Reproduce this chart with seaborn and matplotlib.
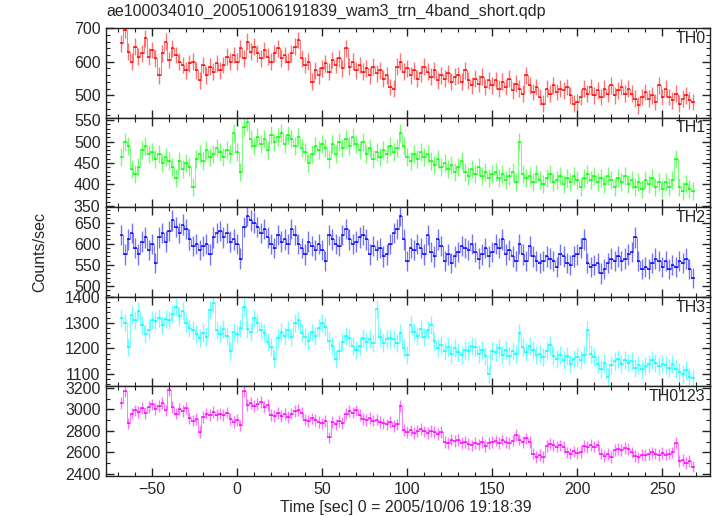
import numpy as np
import matplotlib
matplotlib.use("Agg")
import matplotlib.pyplot as plt
from matplotlib.ticker import MultipleLocator
import seaborn as sns

# ── Data (2 s bins) ───────────────────────────────
title = "ae100034010_20051006191839_wam3_trn_4band_short.qdp"
time_sec = np.arange(-68, 269, 2)

th0 = [655, 695, 630, 600, 645, 615, 625, 670, 615, 635,
       610, 560, 625, 660, 605, 640, 620, 600, 590, 575,
       595, 600, 575, 545, 590, 560, 585, 570, 595, 575,
       590, 615, 600, 620, 600, 640, 610, 660, 630, 645,
       625, 610, 635, 615, 600, 625, 640, 610, 620, 600,
       625, 645, 665, 610, 590, 600, 540, 575, 560, 580,
       595, 570, 605, 590, 610, 580, 640, 585, 600, 575,
       590, 570, 580, 560, 585, 565, 575, 550, 560, 525,
       520, 585, 600, 570, 580, 560, 575, 550, 565, 585,
       570, 555, 575, 545, 560, 550, 565, 540, 555, 560,
       540, 575, 545, 530, 550, 535, 555, 525, 545, 530,
       545, 520, 540, 525, 550, 515, 535, 520, 505, 560,
       530, 510, 525, 495, 475, 520, 505, 530, 510, 520,
       515, 525, 500, 475, 480, 495, 520, 505, 525, 500,
       515, 495, 520, 505, 530, 500, 515, 525, 505, 520,
       505, 490, 470, 495, 510, 490, 500, 480, 530, 495,
       520, 495, 485, 505, 475, 490, 500, 485, 480]

th1 = [465, 500, 490, 435, 425, 440, 480, 490, 470, 475,
       460, 470, 450, 465, 455, 440, 415, 455, 435, 450,
       440, 395, 460, 470, 455, 480, 465, 470, 485, 475,
       465, 480, 470, 520, 475, 430, 535, 545, 505, 490,
       510, 495, 505, 480, 515, 500, 510, 520, 495, 515,
       505, 490, 510, 485, 475, 450, 470, 490, 480, 495,
       485, 460, 495, 470, 500, 485, 505, 490, 510, 495,
       480, 500, 470, 485, 460, 475, 465, 480, 470, 490,
       475, 485, 520, 490, 465, 455, 470, 460, 475, 465,
       470, 455, 445, 460, 440, 450, 435, 445, 430, 440,
       455, 430, 420, 435, 425, 440, 420, 430, 415, 425,
       430, 415, 425, 410, 420, 430, 405, 500, 425, 415,
       420, 405, 425, 410, 400, 415, 425, 405, 410, 420,
       400, 415, 405, 420, 410, 395, 415, 425, 410, 420,
       405, 415, 400, 420, 410, 395, 415, 405, 420, 400,
       410, 395, 405, 390, 410, 400, 415, 395, 405, 390,
       405, 395, 410, 460, 395, 385, 400, 390, 385]

th2 = [620, 575, 610, 625, 590, 575, 605, 615, 585, 600,
       555, 615, 625, 605, 630, 655, 640, 625, 645, 635,
       610, 595, 600, 585, 595, 600, 575, 615, 625, 630,
       615, 625, 605, 610, 600, 565, 640, 665, 655, 650,
       640, 625, 635, 615, 600, 590, 620, 605, 610, 600,
       635, 620, 600, 590, 575, 605, 595, 585, 600, 585,
       560, 620, 610, 600, 595, 620, 635, 610, 600, 605,
       615, 620, 610, 575, 595, 585, 590, 570, 575, 600,
       625, 635, 665, 610, 560, 590, 585, 600, 590, 575,
       620, 580, 570, 610, 595, 560, 575, 555, 570, 580,
       595, 590, 585, 600, 580, 565, 575, 590, 570, 580,
       600, 590, 610, 575, 585, 570, 560, 600, 575, 560,
       595, 570, 560, 555, 560, 570, 565, 560, 545, 575,
       570, 555, 550, 570, 575, 590, 610, 555, 545, 550,
       555, 530, 540, 555, 565, 560, 570, 560, 565, 575,
       580, 615, 560, 540, 545, 540, 555, 565, 560, 545,
       560, 540, 550, 545, 560, 555, 565, 540, 520]

th3 = [1320, 1300, 1205, 1330, 1310, 1345, 1290, 1255, 1270, 1310,
       1305, 1320, 1290, 1315, 1310, 1335, 1360, 1325, 1345, 1300,
       1280, 1270, 1255, 1240, 1260, 1245, 1350, 1375, 1270, 1255,
       1275, 1250, 1190, 1265, 1255, 1280, 1360, 1275, 1265, 1320,
       1300, 1270, 1260, 1225, 1205, 1160, 1240, 1265, 1250, 1270,
       1245, 1300, 1310, 1260, 1245, 1230, 1265, 1250, 1280, 1300,
       1285, 1230, 1210, 1160, 1190, 1225, 1250, 1240, 1210, 1195,
       1210, 1240, 1225, 1235, 1220, 1355, 1245, 1220, 1235, 1240,
       1235, 1220, 1260, 1200, 1175, 1290, 1265, 1250, 1275, 1245,
       1270, 1290, 1230, 1200, 1215, 1190, 1205, 1180, 1200, 1185,
       1175, 1195, 1190, 1210, 1205, 1180, 1195, 1170, 1100, 1190,
       1185, 1200, 1175, 1195, 1170, 1190, 1180, 1260, 1205, 1185,
       1210, 1195, 1175, 1180, 1165, 1190, 1215, 1170, 1160, 1175,
       1155, 1170, 1140, 1160, 1165, 1155, 1175, 1270, 1180, 1165,
       1140, 1120, 1145, 1090, 1135, 1150, 1160, 1140, 1155, 1145,
       1150, 1125, 1135, 1120, 1130, 1140, 1155, 1145, 1130, 1140,
       1135, 1125, 1140, 1120, 1110, 1100, 1115, 1090, 1085]

th0123 = [3060, 3170, 2870, 2960, 2990, 2975, 3010, 2965, 3020, 3045,
          3000, 3030, 3060, 2990, 3180, 3020, 2960, 3005, 2985, 3010,
          2920, 2895, 2910, 2790, 2930, 2960, 2945, 2975, 2950, 2960,
          2945, 2970, 2910, 2885, 2900, 2850, 3170, 3040, 3060, 3030,
          3050, 3065, 3025, 3040, 2950, 2935, 2965, 2940, 2955, 2930,
          2960, 2985, 2995, 2970, 2905, 2890, 2915, 2900, 2880, 2870,
          2890, 2740, 2880, 2860, 2890, 2875, 2960, 2985, 2970, 2990,
          2950, 2910, 2900, 2920, 2895, 2905, 2880, 2870, 2860, 2880,
          2845, 2860, 3030, 2810, 2790, 2805, 2780, 2800, 2820, 2795,
          2780, 2800, 2790, 2770, 2790, 2700, 2690, 2720, 2705, 2715,
          2690, 2700, 2680, 2665, 2690, 2675, 2700, 2660, 2685, 2700,
          2710, 2690, 2720, 2700, 2690, 2710, 2760, 2720, 2700, 2730,
          2700, 2590, 2560, 2575, 2560, 2660, 2680, 2670, 2655, 2665,
          2650, 2600, 2590, 2610, 2595, 2605, 2660, 2650, 2670, 2655,
          2665, 2590, 2570, 2585, 2560, 2620, 2635, 2625, 2640, 2630,
          2600, 2570, 2555, 2580, 2575, 2585, 2600, 2590, 2575, 2595,
          2580, 2590, 2600, 2690, 2520, 2530, 2505, 2520, 2470]

panels = ["TH0", "TH1", "TH2", "TH3", "TH0123"]
series = [th0, th1, th2, th3, th0123]
errors = [25, 21, 24, 35, 54]

# ── Style ─────────────────────────────────────────
sns.set_theme(style="ticks")
plt.rcParams["font.family"] = ["Liberation Sans", "DejaVu Sans"]
plt.rcParams["font.size"] = 11.5

colors = ["#ff0000", "#00ff00", "#0000ff", "#00ffff", "#ff00ff"]
ylims = [(433, 701), (347, 556), (475, 686), (1052, 1401), (2382, 3212)]
majors = [100, 50, 50, 100, 200]
minors = [20, 10, 10, 20, 100]

fig, axes = plt.subplots(5, 1, figsize=(7.17, 5.16), dpi=100, sharex=True)
fig.subplots_adjust(left=0.148, right=0.990, top=0.9457, bottom=0.0775, hspace=0)

for ax, name, vals, err, c, yl, mj, mn in zip(axes, panels, series, errors,
                                              colors, ylims, majors, minors):
    # vertical error bars (light) + bin widths (full colour)
    ax.errorbar(time_sec, vals, yerr=err, fmt="none", ecolor=c,
                elinewidth=1.0, alpha=0.55, zorder=2)
    ax.errorbar(time_sec, vals, xerr=1.0, fmt="none", ecolor=c,
                elinewidth=1.1, alpha=0.9, zorder=3)
    sns.lineplot(x=time_sec, y=vals, ax=ax, color=c, lw=0.6, alpha=0.6,
                 drawstyle="steps-mid", zorder=3)
    ax.set_ylim(*yl)
    ax.set_xlim(-77, 278)
    ax.yaxis.set_major_locator(MultipleLocator(mj))
    ax.yaxis.set_minor_locator(MultipleLocator(mn))
    ax.xaxis.set_major_locator(MultipleLocator(50))
    ax.xaxis.set_minor_locator(MultipleLocator(10))
    ax.tick_params(which="both", direction="in", top=True, right=True,
                   color="#222222", labelsize=11.5, pad=4)
    ax.tick_params(which="major", length=6, width=1)
    ax.tick_params(which="minor", length=3, width=0.8)
    for s in ax.spines.values():
        s.set_linewidth(1.0)
        s.set_color("#222222")
    ax.set_ylabel("")
    ax.text(0.993, 0.97, name, transform=ax.transAxes, ha="right", va="top",
            fontsize=11.5)

axes[-1].set_xlabel("")
fig.text(0.149, 0.977, title, ha="left", va="center", fontsize=11.5)
fig.text(0.056, 0.512, "Counts/sec", rotation=90, ha="center", va="center",
         fontsize=11.5)
fig.text(0.566, 0.017, "Time [sec] 0 = 2005/10/06 19:18:39", ha="center",
         va="center", fontsize=11.5)

plt.savefig("out.png", dpi=100)
